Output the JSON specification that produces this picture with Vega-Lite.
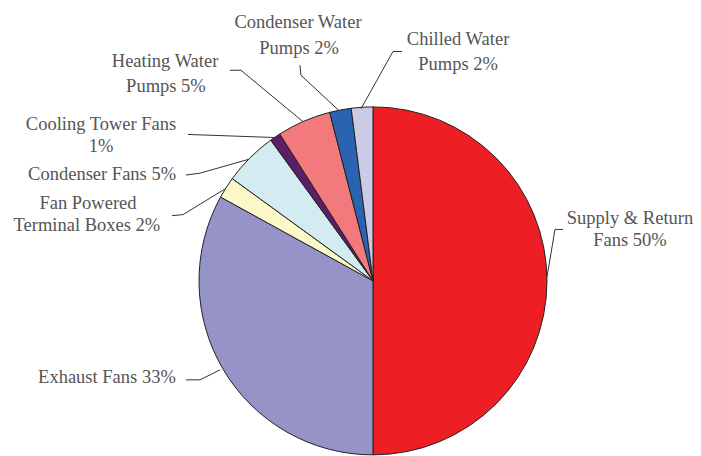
{
  "$schema": "https://vega.github.io/schema/vega-lite/v6.json",
  "width": 701,
  "height": 456,
  "autosize": {"type": "fit", "contains": "padding"},
  "padding": 0,
  "background": "white",
  "config": {"view": {"stroke": null}},
  "datasets": {
    "slices": [
      {"category": "Supply & Return Fans", "value": 50, "order": 1},
      {"category": "Exhaust Fans", "value": 33, "order": 2},
      {"category": "Fan Powered Terminal Boxes", "value": 2, "order": 3},
      {"category": "Condenser Fans", "value": 5, "order": 4},
      {"category": "Cooling Tower Fans", "value": 1, "order": 5},
      {"category": "Heating Water Pumps", "value": 5, "order": 6},
      {"category": "Condenser Water Pumps", "value": 2, "order": 7},
      {"category": "Chilled Water Pumps", "value": 2, "order": 8}
    ],
    "labels": [
      {"line": "Condenser Water", "x": -43.1, "y": 150.6},
      {"line": "Pumps 2%", "x": -42.5, "y": 135.6},
      {"line": "Chilled Water", "x": 48.9, "y": 140.8},
      {"line": "Pumps 2%", "x": 48.9, "y": 125.9},
      {"line": "Heating Water", "x": -119.5, "y": 127.6},
      {"line": "Pumps 5%", "x": -119.0, "y": 113.2},
      {"line": "Cooling Tower Fans", "x": -156.3, "y": 91.4},
      {"line": "1%", "x": -156.3, "y": 78.2},
      {"line": "Condenser Fans 5%", "x": -155.7, "y": 62.1},
      {"line": "Fan Powered", "x": -163.8, "y": 45.4},
      {"line": "Terminal Boxes 2%", "x": -164.4, "y": 32.2},
      {"line": "Supply & Return", "x": 147.7, "y": 36.8},
      {"line": "Fans 50%", "x": 147.7, "y": 23.6},
      {"line": "Exhaust Fans 33%", "x": -152.9, "y": -55.7}
    ],
    "leaders": [
      {"id": "A", "i": 1, "x": -42.0, "y": 125.3},
      {"id": "A", "i": 2, "x": -41.4, "y": 119.5},
      {"id": "A", "i": 3, "x": -19.5, "y": 98.9},
      {"id": "B", "i": 1, "x": 16.7, "y": 133.3},
      {"id": "B", "i": 2, "x": 11.5, "y": 133.3},
      {"id": "B", "i": 3, "x": -6.9, "y": 100.0},
      {"id": "C", "i": 1, "x": -82.2, "y": 122.4},
      {"id": "C", "i": 2, "x": -75.9, "y": 122.4},
      {"id": "C", "i": 3, "x": -40.2, "y": 92.5},
      {"id": "D", "i": 1, "x": -106.3, "y": 85.1},
      {"id": "D", "i": 2, "x": -56.3, "y": 83.3},
      {"id": "E", "i": 1, "x": -107.5, "y": 61.5},
      {"id": "E", "i": 2, "x": -99.4, "y": 62.6},
      {"id": "E", "i": 3, "x": -71.3, "y": 70.7},
      {"id": "F", "i": 1, "x": -115.5, "y": 37.9},
      {"id": "F", "i": 2, "x": -109.2, "y": 38.5},
      {"id": "F", "i": 3, "x": -85.1, "y": 53.4},
      {"id": "G", "i": 1, "x": 109.2, "y": 29.9},
      {"id": "G", "i": 2, "x": 104.6, "y": 29.9},
      {"id": "G", "i": 3, "x": 100.0, "y": 2.3},
      {"id": "H", "i": 1, "x": -107.5, "y": -57.5},
      {"id": "H", "i": 2, "x": -99.4, "y": -57.5},
      {"id": "H", "i": 3, "x": -87.9, "y": -51.7}
    ]
  },
  "layer": [
    {
      "data": {"name": "slices"},
      "mark": {"type": "arc", "outerRadius": 174, "stroke": "#222222", "strokeWidth": 1},
      "encoding": {
        "x": {"datum": 0, "type": "quantitative", "scale": {"domain": [-214.37, 188.51], "nice": false, "zero": false}, "axis": null},
        "y": {"datum": 0, "type": "quantitative", "scale": {"domain": [-98.85, 163.22], "nice": false, "zero": false}, "axis": null},
        "theta": {"field": "value", "type": "quantitative", "stack": true},
        "order": {"field": "order", "type": "quantitative"},
        "color": {
          "field": "category",
          "type": "nominal",
          "legend": null,
          "scale": {
            "domain": ["Supply & Return Fans", "Exhaust Fans", "Fan Powered Terminal Boxes", "Condenser Fans", "Cooling Tower Fans", "Heating Water Pumps", "Condenser Water Pumps", "Chilled Water Pumps"],
            "range": ["#ED1F24", "#9593C8", "#FDF8C8", "#D2ECF2", "#5C1E68", "#F27A7D", "#2A64B0", "#CBCBE5"]
          }
        }
      }
    },
    {
      "data": {"name": "leaders"},
      "mark": {"type": "line", "color": "#333333", "strokeWidth": 1},
      "encoding": {
        "x": {"field": "x", "type": "quantitative", "scale": {"domain": [-214.37, 188.51], "nice": false, "zero": false}, "axis": null},
        "y": {"field": "y", "type": "quantitative", "scale": {"domain": [-98.85, 163.22], "nice": false, "zero": false}, "axis": null},
        "detail": {"field": "id", "type": "nominal"},
        "order": {"field": "i", "type": "quantitative"}
      }
    },
    {
      "data": {"name": "labels"},
      "mark": {"type": "text", "font": "Liberation Serif", "fontSize": 18.5, "color": "#555555", "align": "center", "baseline": "middle"},
      "encoding": {
        "x": {"field": "x", "type": "quantitative", "scale": {"domain": [-214.37, 188.51], "nice": false, "zero": false}, "axis": null},
        "y": {"field": "y", "type": "quantitative", "scale": {"domain": [-98.85, 163.22], "nice": false, "zero": false}, "axis": null},
        "text": {"field": "line", "type": "nominal"}
      }
    }
  ]
}
